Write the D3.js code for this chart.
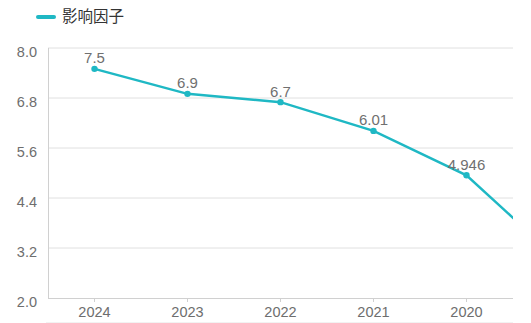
<!DOCTYPE html>
<html><head><meta charset="utf-8">
<script src="https://cdn.jsdelivr.net/npm/d3@7"></script>
<style>body{margin:0;background:#fff;}svg{display:block;font-family:"Liberation Sans",Arial,sans-serif;}</style>
</head><body><svg id="c" width="531" height="323"></svg>
<script>
const categories = ["2024","2023","2022","2021","2020","2019"];
const values = [7.5, 6.9, 6.7, 6.01, 4.946, 2.9];
const labels = ["7.5","6.9","6.7","6.01","4.946",""];
const yTicks = [2.0, 3.2, 4.4, 5.6, 6.8, 8.0];
const seriesName = "影响因子";
const color = "#1fb8c4";

const svg = d3.select("#c");
const m = {left:48, top:48, bottom:298, right:513};
const visible = 5;
const step = (m.right - m.left) / visible;
const x = d3.scaleBand().domain(categories).range([m.left, m.left + step*categories.length]).padding(0);
const y = d3.scaleLinear().domain([2, 8]).range([m.bottom, m.top]);

svg.append("defs").append("clipPath").attr("id","clip")
  .append("rect").attr("x", m.left).attr("y", 0).attr("width", m.right - m.left).attr("height", m.bottom + 5);

// grid
svg.append("g").selectAll("line").data(yTicks.slice(1)).join("line")
  .attr("x1", m.left).attr("x2", m.right)
  .attr("y1", d => y(d)).attr("y2", d => y(d))
  .attr("stroke", "#e0e0e0").attr("stroke-width", 1);

// y labels
svg.append("g").selectAll("text").data(yTicks).join("text")
  .attr("x", 37).attr("y", d => y(d) + 3.5).attr("dy", "0.35em")
  .attr("text-anchor", "end").attr("font-size", 14.5).attr("fill", "#6e6e6e")
  .text(d => d.toFixed(1));

// axes lines
svg.append("line").attr("x1", m.left+0.5).attr("x2", m.left+0.5).attr("y1", m.top).attr("y2", m.bottom)
  .attr("stroke", "#d0d0d0");
svg.append("line").attr("x1", m.left).attr("x2", m.right).attr("y1", m.bottom+0.5).attr("y2", m.bottom+0.5)
  .attr("stroke", "#d0d0d0");

const vis = categories.slice(0, visible);
svg.append("g").selectAll("line").data(vis).join("line")
  .attr("x1", d => x(d) + x.bandwidth()/2).attr("x2", d => x(d) + x.bandwidth()/2)
  .attr("y1", m.bottom).attr("y2", m.bottom + 4).attr("stroke", "#d0d0d0");
svg.append("g").selectAll("text").data(vis).join("text")
  .attr("x", d => x(d) + x.bandwidth()/2).attr("y", 317)
  .attr("text-anchor", "middle").attr("font-size", 14.5).attr("fill", "#6e6e6e")
  .text(d => d);

svg.append("line").attr("x1", 46).attr("x2", m.right).attr("y1", 322.5).attr("y2", 322.5)
  .attr("stroke", "#f2f2f2");

// line
const pts = categories.map((c,i) => ({c, v: values[i], l: labels[i]}));
const g = svg.append("g").attr("clip-path", "url(#clip)");
g.append("path").datum(pts)
  .attr("d", d3.line().x(d => x(d.c) + x.bandwidth()/2).y(d => y(d.v)))
  .attr("fill", "none").attr("stroke", color).attr("stroke-width", 2.5);
g.selectAll("circle").data(pts).join("circle")
  .attr("cx", d => x(d.c) + x.bandwidth()/2).attr("cy", d => y(d.v)).attr("r", 3.2)
  .attr("fill", color);
g.selectAll("text.lbl").data(pts).join("text").attr("class","lbl")
  .attr("x", d => x(d.c) + x.bandwidth()/2).attr("y", d => y(d.v) - 5.5)
  .attr("text-anchor", "middle").attr("font-size", 15).attr("fill", "#707070")
  .text(d => d.l);

// legend
svg.append("rect").attr("x", 36).attr("y", 15).attr("width", 20).attr("height", 4).attr("rx", 2)
  .attr("fill", color);
svg.append("text").attr("x", 62).attr("y", 17).attr("dy", "0.35em")
  .attr("font-size", 15.5).attr("fill", "#333")
  .style("font-family", '"Noto Sans CJK SC", sans-serif')
  .text(seriesName);
</script></body></html>
